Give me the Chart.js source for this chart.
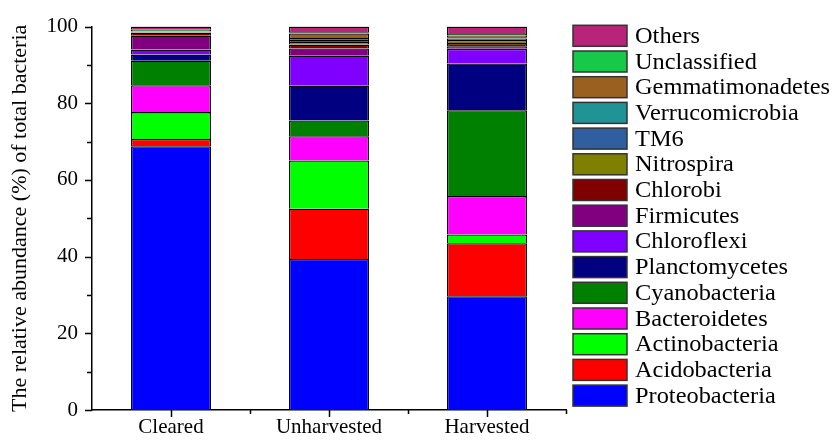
<!DOCTYPE html>
<html>
<head>
<meta charset="utf-8">
<script src="https://cdn.jsdelivr.net/npm/chart.js@4.4.1/dist/chart.umd.min.js"></script>
<style>
  html, body { margin: 0; padding: 0; background: #fff; }
  #wrap { width: 833px; height: 441px; }
</style>
</head>
<body>
<div id="wrap"><canvas id="chart" width="833" height="441"></canvas></div>
<script>
// Sites on the x axis
const sites = ['Cleared', 'Unharvested', 'Harvested'];

// Relative abundance (%) per phylum, one value per site
const proteobacteria   = [68.8, 39.4, 29.7];
const acidobacteria    = [1.9, 13.1, 13.8];
const actinobacteria   = [7.0, 12.6, 2.3];
const bacteroidetes    = [7.0, 6.3, 10.0];
const cyanobacteria    = [6.4, 4.1, 22.4];
const planctomycetes   = [1.6, 9.1, 12.2];
const chloroflexi      = [1.3, 7.8, 3.8];
const firmicutes       = [3.6, 1.9, 0.7];
const chlorobi         = [0.8, 1.0, 0.8];
const nitrospira       = [0.1, 0.7, 0.8];
const tm6              = [0.1, 0.5, 0.4];
const verrucomicrobia  = [0.1, 0.5, 0.3];
const gemmatimonadetes = [0.1, 1.2, 0.4];
const unclassified     = [0.4, 0.3, 0.5];
const others           = [0.8, 1.5, 1.9];

// y axis ticks
const yTicks = [0, 20, 40, 60, 80, 100];

// Series in stacking order (bottom to top)
const series = [
  ['Proteobacteria', proteobacteria],
  ['Acidobacteria', acidobacteria],
  ['Actinobacteria', actinobacteria],
  ['Bacteroidetes', bacteroidetes],
  ['Cyanobacteria', cyanobacteria],
  ['Planctomycetes', planctomycetes],
  ['Chloroflexi', chloroflexi],
  ['Firmicutes', firmicutes],
  ['Chlorobi', chlorobi],
  ['Nitrospira', nitrospira],
  ['TM6', tm6],
  ['Verrucomicrobia', verrucomicrobia],
  ['Gemmatimonadetes', gemmatimonadetes],
  ['Unclassified', unclassified],
  ['Others', others]
];

const colors = [
  '#0000ff', '#ff0000', '#00ff00', '#ff00ff', '#008000',
  '#000080', '#8000ff', '#800080', '#800000', '#808000',
  '#2f5f9f', '#209494', '#9a6020', '#18c848', '#b8247a'
];

const FONT = '"Liberation Serif", "Times New Roman", serif';

// Small tick marks on both axes (major + minor)
const axisTicks = {
  id: 'axisTicks',
  afterDraw(chart) {
    const { ctx, scales: { x, y } } = chart;
    ctx.save();
    ctx.strokeStyle = '#000';
    ctx.lineWidth = 1.5;
    ctx.beginPath();
    for (let v = yTicks[0]; v <= yTicks[yTicks.length - 1]; v += 10) {
      const py = Math.round(y.getPixelForValue(v)) + 0.5;
      const len = v % 20 === 0 ? 7 : 5;
      ctx.moveTo(x.left - len, py);
      ctx.lineTo(x.left, py);
    }
    const half = (x.getPixelForValue(1) - x.getPixelForValue(0)) / 2;
    sites.forEach((s, i) => {
      const px = Math.round(x.getPixelForValue(i)) + 0.5;
      ctx.moveTo(px, y.bottom);
      ctx.lineTo(px, y.bottom + 7);
      ctx.moveTo(px + half, y.bottom);
      ctx.lineTo(px + half, y.bottom + 4);
    });
    ctx.stroke();
    ctx.restore();
  }
};

// Legend on the right, top item = last series
const sideLegend = {
  id: 'sideLegend',
  afterDraw(chart) {
    const ctx = chart.ctx;
    const ds = chart.data.datasets;
    ctx.save();
    ctx.font = '23px ' + FONT;
    ctx.textBaseline = 'middle';
    for (let i = ds.length - 1, row = 0; i >= 0; i--, row++) {
      const cy = 35.8 + row * 25.7;
      ctx.fillStyle = ds[i].backgroundColor;
      ctx.fillRect(573, cy - 10.5, 54, 21);
      ctx.strokeStyle = '#333';
      ctx.lineWidth = 1.5;
      ctx.strokeRect(573, cy - 10.5, 54, 21);
      ctx.fillStyle = '#000';
      // text in the reference is a bit wider than the font
      ctx.save();
      ctx.translate(635, cy + 1);
      ctx.scale(1.06, 1);
      ctx.fillText(ds[i].label, 0, 0);
      ctx.restore();
    }
    ctx.restore();
  }
};

new Chart(document.getElementById('chart'), {
  type: 'bar',
  data: {
    labels: sites,
    datasets: series.map(([name, values], i) => ({
      label: name,
      data: values,
      backgroundColor: colors[i],
      borderColor: '#000',
      borderWidth: 1.3,
      categoryPercentage: 1,
      barPercentage: 0.506
    }))
  },
  options: {
    responsive: false,
    animation: false,
    layout: { padding: { top: 26, right: 267, left: 0, bottom: 0 } },
    plugins: {
      legend: { display: false },
      tooltip: { enabled: false }
    },
    scales: {
      x: {
        stacked: true,
        offset: true,
        grid: { display: false, drawTicks: false },
        border: { display: true, color: '#000', width: 1.5 },
        ticks: { color: '#000', padding: 5, font: { family: FONT, size: 21 } },
        afterFit: scale => { scale.height = 31; }
      },
      y: {
        stacked: true,
        min: 0,
        max: 100,
        grid: { display: false, drawTicks: false },
        border: { display: true, color: '#000', width: 1.5 },
        ticks: {
          color: '#000',
          padding: 14,
          stepSize: 20,
          font: { family: FONT, size: 21 }
        },
        title: {
          display: true,
          text: 'The relative abundance (%) of total bacteria',
          color: '#000',
          font: { family: FONT, size: 22 },
          padding: { top: 7, bottom: 0 }
        },
        afterFit: scale => { scale.width = 92; }
      }
    }
  },
  plugins: [axisTicks, sideLegend]
});
</script>
</body>
</html>
